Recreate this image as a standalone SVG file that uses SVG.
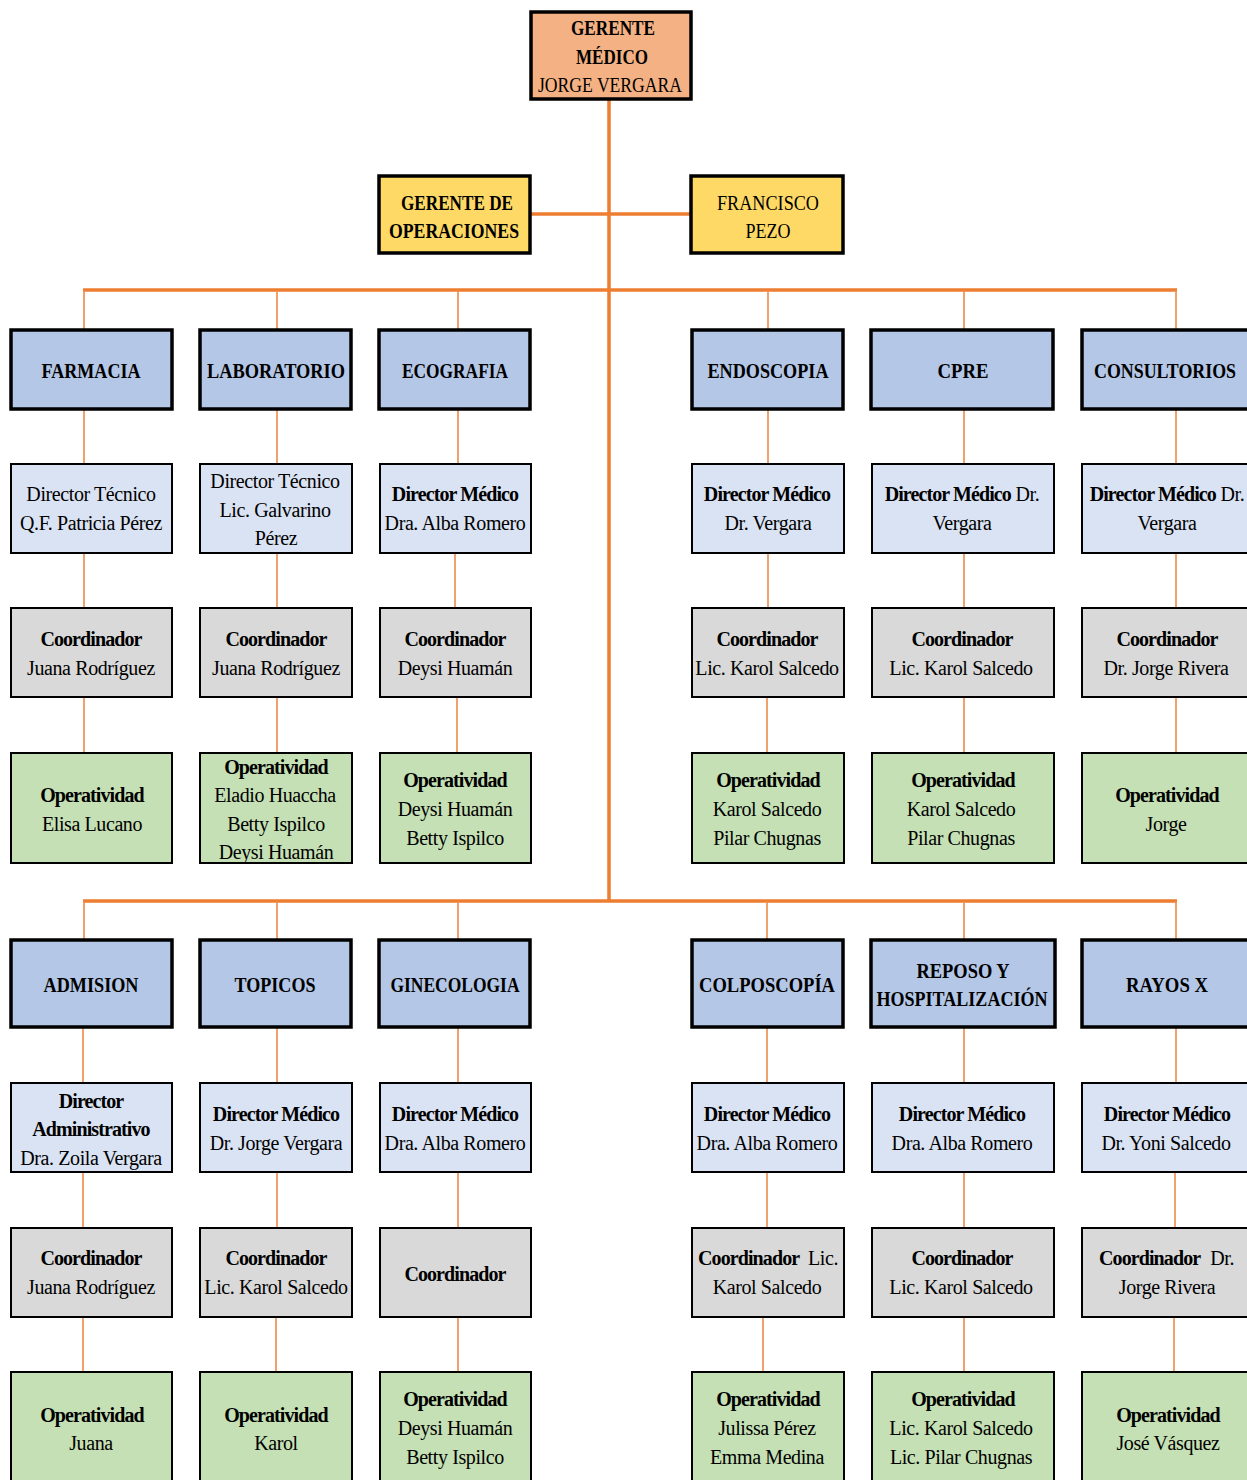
<svg xmlns="http://www.w3.org/2000/svg" width="1247" height="1480" viewBox="0 0 1247 1480">
<style>
text{font-family:"Liberation Serif","Times New Roman",serif;font-size:20px;fill:#000;text-anchor:middle}
.r{letter-spacing:-0.4px}
.b{font-weight:bold;letter-spacing:-0.9px}
.h{font-weight:bold;font-size:21px}
.hr{font-size:21px}
.gm{fill:#F4B183;stroke:#000;stroke-width:3.5}
.go{fill:#FFD966;stroke:#000;stroke-width:3.5}
.dep{fill:#B4C7E7;stroke:#000;stroke-width:3.5}
.dir{fill:#DAE3F3;stroke:#000;stroke-width:2}
.co{fill:#D9D9D9;stroke:#000;stroke-width:2}
.op{fill:#C5E0B4;stroke:#000;stroke-width:2}
.bus{stroke:#ED7D31;stroke-width:3.5;fill:none}
.thin{stroke:#EE8A4A;stroke-width:1.6;fill:none}
</style>
<rect width="1247" height="1480" fill="#fff"/>
<g id="connectors">
<path class="bus" d="M609 100V901M531 214H690M83 290H1177M83 901H1177"/>
<path class="thin" d="M84 290V329M277 290V329M458 290V329M768 290V329M964 290V329M1176 290V329"/>
<path class="thin" d="M84 409V463M277 409V463M458 409V463M768 409V463M964 409V463M1176 409V463"/>
<path class="thin" d="M84 553V607M277 553V607M455 553V607M768 553V607M964 553V607M1176 553V607"/>
<path class="thin" d="M84 697V752M277 697V752M457 697V752M767 697V752M964 697V752M1176 697V752"/>
<path class="thin" d="M84 901V939M277 901V939M458 901V939M767 901V939M964 901V939M1176 901V939"/>
<path class="thin" d="M83 1028V1082M277 1028V1082M458 1028V1082M767 1028V1082M964 1028V1082M1176 1028V1082"/>
<path class="thin" d="M83 1172V1228M277 1172V1228M458 1172V1228M767 1172V1228M964 1172V1228M1175 1172V1228"/>
<path class="thin" d="M83 1317V1372M276 1317V1372M458 1317V1372M763 1317V1372M964 1317V1372M1174 1317V1372"/>
</g>
<g id="gerente-medico">
<rect class="gm" x="531" y="12" width="160" height="87"/>
<text class="h" x="613" y="35" textLength="84" lengthAdjust="spacingAndGlyphs">GERENTE</text>
<text class="h" x="612" y="64" textLength="72" lengthAdjust="spacingAndGlyphs">MÉDICO</text>
<text class="hr" x="610" y="92" textLength="144" lengthAdjust="spacingAndGlyphs">JORGE VERGARA</text>
</g>
<g id="gerente-operaciones">
<rect class="go" x="379" y="176" width="151" height="77"/>
<text class="h" x="457" y="210" textLength="112" lengthAdjust="spacingAndGlyphs">GERENTE DE</text>
<text class="h" x="454" y="238" textLength="130" lengthAdjust="spacingAndGlyphs">OPERACIONES</text>
</g>
<g id="francisco-pezo">
<rect class="go" x="691" y="176" width="152" height="77"/>
<text class="hr" x="768" y="210" textLength="102" lengthAdjust="spacingAndGlyphs">FRANCISCO</text>
<text class="hr" x="768" y="238" textLength="45" lengthAdjust="spacingAndGlyphs">PEZO</text>
</g>

<!-- Column 1 top: FARMACIA -->
<g id="farmacia">
<rect class="dep" x="11" y="330" width="161" height="79"/>
<text class="h" x="91" y="378" textLength="99" lengthAdjust="spacingAndGlyphs">FARMACIA</text>
</g>
<g id="farmacia-director">
<rect class="dir" x="11" y="464" width="161" height="89"/>
<text class="r" x="91" y="501">Director Técnico</text>
<text class="r" x="91" y="530">Q.F. Patricia Pérez</text>
</g>
<g id="farmacia-coordinador">
<rect class="co" x="11" y="608" width="161" height="89"/>
<text class="b" x="91" y="646">Coordinador</text>
<text class="r" x="91" y="675">Juana Rodríguez</text>
</g>
<g id="farmacia-operatividad">
<rect class="op" x="11" y="753" width="161" height="110"/>
<text class="b" x="92" y="802">Operatividad</text>
<text class="r" x="92" y="831">Elisa Lucano</text>
</g>

<!-- Column 2 top: LABORATORIO -->
<g id="laboratorio">
<rect class="dep" x="200" y="330" width="151" height="79"/>
<text class="h" x="276" y="378" textLength="138" lengthAdjust="spacingAndGlyphs">LABORATORIO</text>
</g>
<g id="laboratorio-director">
<rect class="dir" x="200" y="464" width="152" height="89"/>
<text class="r" x="275" y="488">Director Técnico</text>
<text class="r" x="275" y="517">Lic. Galvarino</text>
<text class="r" x="276" y="545">Pérez</text>
</g>
<g id="laboratorio-coordinador">
<rect class="co" x="200" y="608" width="152" height="89"/>
<text class="b" x="276" y="646">Coordinador</text>
<text class="r" x="276" y="675">Juana Rodríguez</text>
</g>
<g id="laboratorio-operatividad">
<rect class="op" x="200" y="753" width="152" height="110"/>
<text class="b" x="276" y="774">Operatividad</text>
<text class="r" x="275" y="802">Eladio Huaccha</text>
<text class="r" x="276" y="831">Betty Ispilco</text>
<text class="r" x="276" y="859">Deysi Huamán</text>
</g>

<!-- Column 3 top: ECOGRAFIA -->
<g id="ecografia">
<rect class="dep" x="379" y="330" width="151" height="79"/>
<text class="h" x="455" y="378" textLength="106" lengthAdjust="spacingAndGlyphs">ECOGRAFIA</text>
</g>
<g id="ecografia-director">
<rect class="dir" x="380" y="464" width="151" height="89"/>
<text class="b" x="455" y="501">Director Médico</text>
<text class="r" x="455" y="530">Dra. Alba Romero</text>
</g>
<g id="ecografia-coordinador">
<rect class="co" x="380" y="608" width="151" height="89"/>
<text class="b" x="455" y="646">Coordinador</text>
<text class="r" x="455" y="675">Deysi Huamán</text>
</g>
<g id="ecografia-operatividad">
<rect class="op" x="380" y="753" width="151" height="110"/>
<text class="b" x="455" y="787">Operatividad</text>
<text class="r" x="455" y="816">Deysi Huamán</text>
<text class="r" x="455" y="845">Betty Ispilco</text>
</g>

<!-- Column 4 top: ENDOSCOPIA -->
<g id="endoscopia">
<rect class="dep" x="692" y="330" width="151" height="79"/>
<text class="h" x="768" y="378" textLength="121" lengthAdjust="spacingAndGlyphs">ENDOSCOPIA</text>
</g>
<g id="endoscopia-director">
<rect class="dir" x="692" y="464" width="152" height="89"/>
<text class="b" x="767" y="501">Director Médico</text>
<text class="r" x="768" y="530">Dr. Vergara</text>
</g>
<g id="endoscopia-coordinador">
<rect class="co" x="692" y="608" width="152" height="89"/>
<text class="b" x="767" y="646">Coordinador</text>
<text class="r" x="767" y="675">Lic. Karol Salcedo</text>
</g>
<g id="endoscopia-operatividad">
<rect class="op" x="692" y="753" width="152" height="110"/>
<text class="b" x="768" y="787">Operatividad</text>
<text class="r" x="767" y="816">Karol Salcedo</text>
<text class="r" x="767" y="845">Pilar Chugnas</text>
</g>

<!-- Column 5 top: CPRE -->
<g id="cpre">
<rect class="dep" x="871" y="330" width="182" height="79"/>
<text class="h" x="963" y="378" textLength="51" lengthAdjust="spacingAndGlyphs">CPRE</text>
</g>
<g id="cpre-director">
<rect class="dir" x="872" y="464" width="182" height="89"/>
<text x="962" y="501"><tspan class="b">Director Médico</tspan><tspan class="r"> Dr.</tspan></text>
<text class="r" x="962" y="530">Vergara</text>
</g>
<g id="cpre-coordinador">
<rect class="co" x="872" y="608" width="182" height="89"/>
<text class="b" x="962" y="646">Coordinador</text>
<text class="r" x="961" y="675">Lic. Karol Salcedo</text>
</g>
<g id="cpre-operatividad">
<rect class="op" x="872" y="753" width="182" height="110"/>
<text class="b" x="963" y="787">Operatividad</text>
<text class="r" x="961" y="816">Karol Salcedo</text>
<text class="r" x="961" y="845">Pilar Chugnas</text>
</g>

<!-- Column 6 top: CONSULTORIOS -->
<g id="consultorios">
<rect class="dep" x="1082" y="330" width="180" height="79"/>
<text class="h" x="1165" y="378" textLength="142" lengthAdjust="spacingAndGlyphs">CONSULTORIOS</text>
</g>
<g id="consultorios-director">
<rect class="dir" x="1082" y="464" width="180" height="89"/>
<text x="1167" y="501"><tspan class="b">Director Médico</tspan><tspan class="r"> Dr.</tspan></text>
<text class="r" x="1167" y="530">Vergara</text>
</g>
<g id="consultorios-coordinador">
<rect class="co" x="1082" y="608" width="180" height="89"/>
<text class="b" x="1167" y="646">Coordinador</text>
<text class="r" x="1166" y="675">Dr. Jorge Rivera</text>
</g>
<g id="consultorios-operatividad">
<rect class="op" x="1082" y="753" width="180" height="110"/>
<text class="b" x="1167" y="802">Operatividad</text>
<text class="r" x="1166" y="831">Jorge</text>
</g>

<!-- Column 1 bottom: ADMISION -->
<g id="admision">
<rect class="dep" x="11" y="940" width="161" height="87"/>
<text class="h" x="91" y="992" textLength="95" lengthAdjust="spacingAndGlyphs">ADMISION</text>
</g>
<g id="admision-director">
<rect class="dir" x="11" y="1083" width="161" height="89"/>
<text class="b" x="91" y="1108">Director</text>
<text class="b" x="91" y="1136">Administrativo</text>
<text class="r" x="91" y="1165">Dra. Zoila Vergara</text>
</g>
<g id="admision-coordinador">
<rect class="co" x="11" y="1228" width="161" height="89"/>
<text class="b" x="91" y="1265">Coordinador</text>
<text class="r" x="91" y="1294">Juana Rodríguez</text>
</g>
<g id="admision-operatividad">
<rect class="op" x="11" y="1372" width="161" height="120"/>
<text class="b" x="92" y="1422">Operatividad</text>
<text class="r" x="91" y="1450">Juana</text>
</g>

<!-- Column 2 bottom: TOPICOS -->
<g id="topicos">
<rect class="dep" x="200" y="940" width="151" height="87"/>
<text class="h" x="275" y="992" textLength="81" lengthAdjust="spacingAndGlyphs">TOPICOS</text>
</g>
<g id="topicos-director">
<rect class="dir" x="200" y="1083" width="152" height="89"/>
<text class="b" x="276" y="1121">Director Médico</text>
<text class="r" x="276" y="1150">Dr. Jorge Vergara</text>
</g>
<g id="topicos-coordinador">
<rect class="co" x="200" y="1228" width="152" height="89"/>
<text class="b" x="276" y="1265">Coordinador</text>
<text class="r" x="276" y="1294">Lic. Karol Salcedo</text>
</g>
<g id="topicos-operatividad">
<rect class="op" x="200" y="1372" width="152" height="120"/>
<text class="b" x="276" y="1422">Operatividad</text>
<text class="r" x="276" y="1450">Karol</text>
</g>

<!-- Column 3 bottom: GINECOLOGIA -->
<g id="ginecologia">
<rect class="dep" x="379" y="940" width="151" height="87"/>
<text class="h" x="455" y="992" textLength="129" lengthAdjust="spacingAndGlyphs">GINECOLOGIA</text>
</g>
<g id="ginecologia-director">
<rect class="dir" x="380" y="1083" width="151" height="89"/>
<text class="b" x="455" y="1121">Director Médico</text>
<text class="r" x="455" y="1150">Dra. Alba Romero</text>
</g>
<g id="ginecologia-coordinador">
<rect class="co" x="380" y="1228" width="151" height="89"/>
<text class="b" x="455" y="1281">Coordinador</text>
</g>
<g id="ginecologia-operatividad">
<rect class="op" x="380" y="1372" width="151" height="120"/>
<text class="b" x="455" y="1406">Operatividad</text>
<text class="r" x="455" y="1435">Deysi Huamán</text>
<text class="r" x="455" y="1464">Betty Ispilco</text>
</g>

<!-- Column 4 bottom: COLPOSCOPÍA -->
<g id="colposcopia">
<rect class="dep" x="692" y="940" width="151" height="87"/>
<text class="h" x="767" y="992" textLength="136" lengthAdjust="spacingAndGlyphs">COLPOSCOPÍA</text>
</g>
<g id="colposcopia-director">
<rect class="dir" x="692" y="1083" width="152" height="89"/>
<text class="b" x="767" y="1121">Director Médico</text>
<text class="r" x="767" y="1150">Dra. Alba Romero</text>
</g>
<g id="colposcopia-coordinador">
<rect class="co" x="692" y="1228" width="152" height="89"/>
<text class="b" x="698" y="1265" style="text-anchor:start">Coordinador</text>
<text class="r" x="838" y="1265" style="text-anchor:end">Lic.</text>
<text class="r" x="767" y="1294">Karol Salcedo</text>
</g>
<g id="colposcopia-operatividad">
<rect class="op" x="692" y="1372" width="152" height="120"/>
<text class="b" x="768" y="1406">Operatividad</text>
<text class="r" x="767" y="1435">Julissa Pérez</text>
<text class="r" x="767" y="1464">Emma Medina</text>
</g>

<!-- Column 5 bottom: REPOSO Y HOSPITALIZACIÓN -->
<g id="reposo-hospitalizacion">
<rect class="dep" x="871" y="940" width="184" height="87"/>
<text class="h" x="963" y="978" textLength="93" lengthAdjust="spacingAndGlyphs">REPOSO Y</text>
<text class="h" x="962" y="1006" textLength="171" lengthAdjust="spacingAndGlyphs">HOSPITALIZACIÓN</text>
</g>
<g id="reposo-director">
<rect class="dir" x="872" y="1083" width="182" height="89"/>
<text class="b" x="962" y="1121">Director Médico</text>
<text class="r" x="962" y="1150">Dra. Alba Romero</text>
</g>
<g id="reposo-coordinador">
<rect class="co" x="872" y="1228" width="182" height="89"/>
<text class="b" x="962" y="1265">Coordinador</text>
<text class="r" x="961" y="1294">Lic. Karol Salcedo</text>
</g>
<g id="reposo-operatividad">
<rect class="op" x="872" y="1372" width="182" height="120"/>
<text class="b" x="963" y="1406">Operatividad</text>
<text class="r" x="961" y="1435">Lic. Karol Salcedo</text>
<text class="r" x="961" y="1464">Lic. Pilar Chugnas</text>
</g>

<!-- Column 6 bottom: RAYOS X -->
<g id="rayos-x">
<rect class="dep" x="1082" y="940" width="180" height="87"/>
<text class="h" x="1167" y="992" textLength="82" lengthAdjust="spacingAndGlyphs">RAYOS X</text>
</g>
<g id="rayos-x-director">
<rect class="dir" x="1082" y="1083" width="180" height="89"/>
<text class="b" x="1167" y="1121">Director Médico</text>
<text class="r" x="1166" y="1150">Dr. Yoni Salcedo</text>
</g>
<g id="rayos-x-coordinador">
<rect class="co" x="1082" y="1228" width="180" height="89"/>
<text class="b" x="1099" y="1265" style="text-anchor:start">Coordinador</text>
<text class="r" x="1234" y="1265" style="text-anchor:end">Dr.</text>
<text class="r" x="1167" y="1294">Jorge Rivera</text>
</g>
<g id="rayos-x-operatividad">
<rect class="op" x="1082" y="1372" width="180" height="120"/>
<text class="b" x="1168" y="1422">Operatividad</text>
<text class="r" x="1168" y="1450">José Vásquez</text>
</g>
</svg>
